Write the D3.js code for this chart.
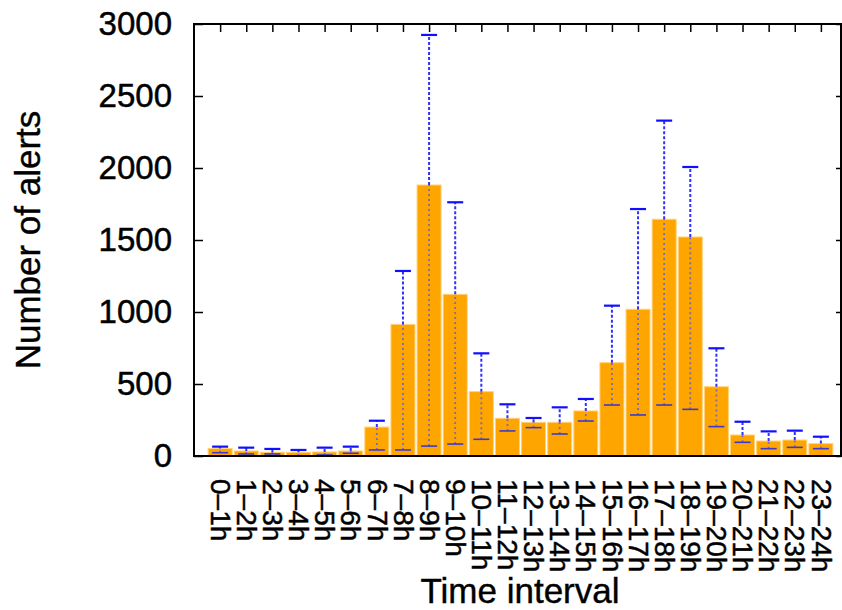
<!DOCTYPE html>
<html>
<head>
<meta charset="utf-8">
<script src="https://cdn.jsdelivr.net/npm/d3@7"></script>
<style>
  html, body { margin: 0; padding: 0; background: #fff; }
  svg { display: block; font-family: "Liberation Sans", Arial, Helvetica, sans-serif; }
</style>
</head>
<body>
<div id="chart"></div>
<script>
// time slots and their values
const intervals = ["0\u20131h", "1\u20132h", "2\u20133h", "3\u20134h", "4\u20135h", "5\u20136h",
  "6\u20137h", "7\u20138h", "8\u20139h", "9\u201310h", "10\u201311h", "11\u201312h",
  "12\u201313h", "13\u201314h", "14\u201315h", "15\u201316h", "16\u201317h", "17\u201318h",
  "18\u201319h", "19\u201320h", "20\u201321h", "21\u201322h", "22\u201323h", "23\u201324h"];
const alerts = [52, 35, 26, 26, 28, 35, 201, 914, 1882, 1123, 447, 262,
  234, 234, 313, 648, 1019, 1644, 1521, 481, 146, 104, 111, 86];
const errLow = [23, 14, 14, 0, 7, 19, 42, 42, 69, 83, 116, 174,
  197, 153, 243, 354, 285, 354, 324, 204, 95, 51, 60, 51];
const errHigh = [65, 58, 49, 42, 58, 65, 245, 1285, 2924, 1762, 713, 359,
  264, 338, 396, 1044, 1715, 2329, 2007, 748, 238, 171, 176, 134];
const yTicks = [0, 500, 1000, 1500, 2000, 2500, 3000];

const width = 842, height = 610;
const pLeft = 194, pRight = 841, pTop = 24, pBottom = 456;
const font = "\"Liberation Sans\", Arial, sans-serif";

const svg = d3.select("#chart").append("svg")
  .attr("width", width).attr("height", height);

const x = d3.scaleLinear().domain([-1, 23.77]).range([pLeft, pRight]);
const y = d3.scaleLinear().domain([0, 3000]).range([pBottom, pTop]);
const step = x(1) - x(0);
const barW = step * 0.92;

// bars
svg.append("g").selectAll("rect").data(alerts).join("rect")
  .attr("x", (d, i) => x(i) - barW / 2)
  .attr("y", d => y(d))
  .attr("width", barW)
  .attr("height", d => y(0) - y(d))
  .attr("fill", "#ffa500")
  .attr("stroke", "#ffd27a").attr("stroke-width", 1);

// error bars: dimmer inside the bar, bright blue above it
const eb = svg.append("g");
alerts.forEach((v, i) => {
  const cx = x(i);
  const lo = errLow[i], hi = errHigh[i];
  const inTop = Math.min(v, hi);
  eb.append("line")
    .attr("x1", cx).attr("x2", cx).attr("y1", y(lo)).attr("y2", y(inTop))
    .attr("stroke", "#7a6ab8").attr("stroke-width", 1.8).attr("stroke-dasharray", "2,3");
  if (hi > v) {
    eb.append("line")
      .attr("x1", cx).attr("x2", cx).attr("y1", y(v)).attr("y2", y(hi))
      .attr("stroke", "#3030ff").attr("stroke-width", 2).attr("stroke-dasharray", "3,2");
  }
  eb.append("line")
    .attr("x1", cx - 8).attr("x2", cx + 8).attr("y1", y(hi)).attr("y2", y(hi))
    .attr("stroke", hi > v ? "#1010ff" : "#3030d0").attr("stroke-width", 2.2);
  eb.append("line")
    .attr("x1", cx - 8).attr("x2", cx + 8).attr("y1", y(lo)).attr("y2", y(lo))
    .attr("stroke", "#3a3ad0").attr("stroke-width", 1.6);
});

// axes
const yAxis = svg.append("g").attr("transform", `translate(${pLeft},0)`)
  .call(d3.axisLeft(y).tickValues(yTicks).tickSize(-9).tickPadding(22).tickFormat(d3.format("d")));
yAxis.select(".domain").remove();
yAxis.selectAll("text").attr("font-size", 33).attr("fill", "#000")
  .attr("stroke", "#000").attr("stroke-width", 0.5)
  .attr("font-family", font);
yAxis.selectAll("line").attr("stroke", "#000").attr("stroke-width", 1.5);

const yRight = svg.append("g").attr("transform", `translate(${pRight},0)`)
  .call(d3.axisRight(y).tickValues(yTicks).tickSize(-5).tickFormat(""));
yRight.select(".domain").remove();
yRight.selectAll("line").attr("stroke", "#000").attr("stroke-width", 1.5);

const xTop = svg.append("g").attr("transform", `translate(0,${pTop})`)
  .call(d3.axisTop(x).tickValues(d3.range(intervals.length)).tickSize(-8).tickFormat(""));
xTop.select(".domain").remove();
xTop.selectAll("line").attr("stroke", "#000").attr("stroke-width", 1.5);

const xAxis = svg.append("g").attr("transform", `translate(0,${pBottom})`)
  .call(d3.axisBottom(x).tickValues(d3.range(intervals.length)).tickSize(0)
    .tickFormat(i => intervals[i]));
xAxis.select(".domain").remove();
xAxis.selectAll("text")
  .attr("y", 0).attr("x", 0).attr("dy", "0.35em")
  .attr("transform", "translate(0,23) rotate(90)")
  .attr("text-anchor", "start")
  .attr("font-size", 28).attr("fill", "#000")
  .attr("stroke", "#000").attr("stroke-width", 0.5)
  .attr("font-family", font);

// frame
svg.append("rect")
  .attr("x", pLeft).attr("y", pTop).attr("width", pRight - pLeft).attr("height", pBottom - pTop)
  .attr("fill", "none").attr("stroke", "#000").attr("stroke-width", 2);

// titles
svg.append("text")
  .attr("x", 520).attr("y", 603).attr("text-anchor", "middle")
  .attr("font-size", 35).attr("stroke", "#000").attr("stroke-width", 0.4)
  .text("Time interval");
svg.append("text")
  .attr("transform", "translate(40,240) rotate(-90)")
  .attr("text-anchor", "middle")
  .attr("font-size", 35).attr("stroke", "#000").attr("stroke-width", 0.4)
  .text("Number of alerts");
</script>
</body>
</html>
